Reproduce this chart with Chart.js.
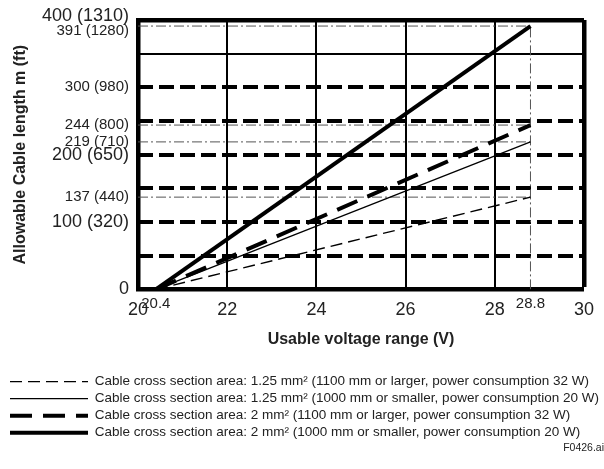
<!DOCTYPE html>
<html>
<head>
<meta charset="utf-8">
<script src="https://cdn.jsdelivr.net/npm/chart.js@4.4.1/dist/chart.umd.min.js"></script>
<style>
  html, body { margin: 0; padding: 0; background: #fff; }
</style>
</head>
<body>
<canvas id="chart" width="604" height="469"></canvas>
<script>
// endpoints of every cable line (V)
const voltage = [20.4, 28.8];

const seriesLabels = [
  "Cable cross section area: 1.25 mm² (1100 mm or larger, power consumption 32 W)",
  "Cable cross section area: 1.25 mm² (1000 mm or smaller, power consumption 20 W)",
  "Cable cross section area: 2 mm² (1100 mm or larger, power consumption 32 W)",
  "Cable cross section area: 2 mm² (1000 mm or smaller, power consumption 20 W)",
];

// allowable length (m) at 20.4 V and 28.8 V
const len125mm32W = [0, 137];
const len125mm20W = [0, 219];
const len2mm32W = [0, 244];
const len2mm20W = [0, 391];

const voltageTicks = [20, 20.4, 22, 24, 26, 28, 28.8, 30];
const lengthTicks = [0, 100, 137, 200, 219, 244, 300, 391, 400];
const feetTicks = [null, 320, 440, 650, 710, 800, 980, 1280, 1310];
const markedVoltages = [20.4, 28.8];
const markedLengths = [137, 219, 244, 391];
const bigLengthTicks = [0, 100, 200, 400];

Chart.defaults.font.family = '"Liberation Sans", Arial, sans-serif';
Chart.defaults.color = "#222";

const seriesValues = [len125mm32W, len125mm20W, len2mm32W, len2mm20W];
const seriesStyles = [
  { borderWidth: 1.4, borderDash: [12, 6] },
  { borderWidth: 1.3, borderDash: [] },
  { borderWidth: 4, borderDash: [22, 11] },
  { borderWidth: 4, borderDash: [] },
];
const refStyle = {
  borderColor: "#555",
  borderWidth: 1,
  borderDash: [10, 3, 2, 3],
  pointRadius: 0,
  fill: false,
};

const datasets = seriesValues.map((vals, i) => ({
  label: seriesLabels[i],
  data: voltage.map((v, j) => ({ x: v, y: vals[j] })),
  borderColor: "#000",
  backgroundColor: "#000",
  pointRadius: 0,
  fill: false,
  ...seriesStyles[i],
}));

// dash-dot guide lines for the end values
markedLengths.forEach((len) => {
  datasets.push({
    label: "",
    data: [{ x: voltageTicks[0], y: len }, { x: voltage[1], y: len }],
    ...refStyle,
  });
});
datasets.push({
  label: "",
  data: [{ x: voltage[1], y: 0 }, { x: voltage[1], y: Math.max(...markedLengths) }],
  ...refStyle,
});

const tickValue = (c) => (c.tick ? c.tick.value : null);

new Chart(document.getElementById("chart"), {
  type: "line",
  data: { datasets },
  options: {
    responsive: false,
    animation: false,
    devicePixelRatio: 1,
    layout: { padding: { left: 6.5, right: 0, top: 20, bottom: 11 } },
    plugins: {
      tooltip: { enabled: false },
      legend: {
        position: "bottom",
        align: "start",
        labels: {
          usePointStyle: true,
          pointStyle: "line",
          pointStyleWidth: 78,
          boxHeight: 8,
          padding: 3.5,
          color: "#222",
          font: { size: 13.5 },
          filter: (item) => item.datasetIndex < seriesValues.length,
          // point-style legend ignores the line dash, so copy it over
          generateLabels: (chart) => {
            const items = Chart.defaults.plugins.legend.labels.generateLabels(chart);
            items.forEach((it) => {
              const ds = chart.data.datasets[it.datasetIndex];
              it.lineDash = ds.borderDash;
              it.lineWidth = ds.borderWidth;
              it.pointStyle = "line";
            });
            return items;
          },
        },
      },
      subtitle: {
        display: true,
        text: "F0426.ai",
        position: "bottom",
        align: "end",
        color: "#222",
        font: { size: 10.5 },
        padding: { top: -8, bottom: 4 },
      },
    },
    scales: {
      x: {
        type: "linear",
        min: 20,
        max: 30,
        afterBuildTicks: (s) => {
          s.ticks = voltageTicks.map((v) => ({ value: v }));
        },
        afterFit: (s) => {
          s.height = 82;
        },
        ticks: {
          autoSkip: false,
          maxRotation: 0,
          padding: 10,
          color: "#222",
          font: (c) =>
            markedVoltages.includes(tickValue(c))
              ? { size: 15, lineHeight: "9px" }
              : { size: 18 },
          callback: (v) => String(v),
        },
        grid: {
          color: "#000",
          drawTicks: false,
          lineWidth: (c) => {
            const v = tickValue(c);
            if (v === 30) return 4.5;
            if (v === 20 || markedVoltages.includes(v)) return 0;
            return 2;
          },
        },
        border: { color: "#000", width: 4.5 },
        title: {
          display: true,
          text: "Usable voltage range (V)",
          color: "#222",
          font: { size: 16, weight: "bold" },
          padding: { top: 0, bottom: 22 },
        },
      },
      y: {
        type: "linear",
        min: 0,
        max: 400,
        afterBuildTicks: (s) => {
          s.ticks = lengthTicks.map((v) => ({ value: v }));
        },
        afterFit: (s) => {
          s.width = 131.5;
        },
        ticks: {
          autoSkip: false,
          padding: 9,
          color: "#222",
          font: (c) => {
            const v = tickValue(c);
            if (v === 400) return { size: 18, lineHeight: "7px" };
            if (v === 391) return { size: 15, lineHeight: "10px" };
            return bigLengthTicks.includes(v) ? { size: 18 } : { size: 15 };
          },
          callback: (v) => {
            const ft = feetTicks[lengthTicks.indexOf(v)];
            const text = ft == null ? String(v) : `${v} (${ft})`;
            // nudge the two crowded top labels apart
            if (v === 400) return [text, ""];
            if (v === 391) return ["", text];
            return text;
          },
        },
        grid: { drawOnChartArea: false, drawTicks: false },
        border: { color: "#000", width: 4.5 },
        title: {
          display: true,
          text: "Allowable Cable length m (ft)",
          color: "#222",
          font: { size: 16, weight: "bold" },
          padding: { top: 4, bottom: 0 },
        },
      },
      // hidden axis that only draws the horizontal grid every 50 m
      yGrid: {
        type: "linear",
        position: "right",
        min: 0,
        max: 400,
        afterFit: (s) => {
          s.width = 19;
        },
        ticks: { display: false, stepSize: 50 },
        grid: {
          color: "#000",
          drawTicks: false,
          lineWidth: (c) => {
            const v = tickValue(c);
            if (v === 400) return 4.5;
            if (v === 350) return 2;
            if (v === 0) return 0;
            return 4;
          },
        },
        border: {
          display: false,
          dash: (c) => {
            const v = tickValue(c);
            return v > 0 && v <= 300 ? [15, 6] : [];
          },
        },
      },
    },
  },
});
</script>
</body>
</html>
